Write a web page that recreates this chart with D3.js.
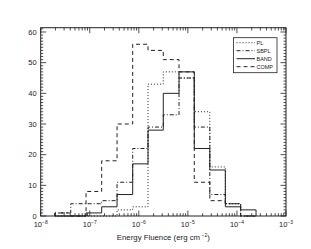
<!DOCTYPE html>
<html>
<head>
<meta charset="utf-8">
<script src="https://cdn.jsdelivr.net/npm/d3@7"></script>
<style>
  html, body { margin: 0; padding: 0; background: #fff; }
  text { font-family: 'Liberation Sans', Arial, sans-serif; fill: #222; }
</style>
</head>
<body>
<svg id="chart" width="311" height="249"></svg>
<script>
// bin edges in erg cm^-2
const binEdges = [1.95e-8, 4.1e-8, 8.4e-8, 1.75e-7, 3.6e-7, 7.5e-7, 1.54e-6,
  3.15e-6, 6.6e-6, 1.35e-5, 2.8e-5, 5.8e-5, 1.19e-4, 2.45e-4];

const plCounts   = [0, 0, 0, 0, 2, 3, 43, 47, 45, 34, 16, 4, 0];
const sbplCounts = [1, 4, 4, 5, 11, 22, 29, 33, 45, 29, 7, 4, 0];
const bandCounts = [0, 0, 1, 3, 7, 17, 28, 40, 47, 22, 15, 3, 2];
const compCounts = [1, 0, 8, 18, 30, 56, 54, 51, 47, 11, 5, 4, 0];

const seriesNames = ['PL', 'SBPL', 'BAND', 'COMP'];
const xTickExponents = [-8, -7, -6, -5, -4, -3];
const yTicks = [0, 10, 20, 30, 40, 50, 60];

const width = 311;
const height = 249;
const margin = { top: 27.7, right: 25, bottom: 33, left: 40.7 };

const dashes = {
  PL: '1,2',
  SBPL: '4,2,1,2',
  BAND: null,
  COMP: '4,3',
};

const series = [
  { name: 'PL', values: plCounts },
  { name: 'SBPL', values: sbplCounts },
  { name: 'BAND', values: bandCounts },
  { name: 'COMP', values: compCounts },
];

const svg = d3.select('#chart');

const xScale = d3.scaleLog()
  .domain([1e-8, 1e-3])
  .range([margin.left, width - margin.right]);

const yScale = d3.scaleLinear()
  .domain([0, 61.4])
  .range([height - margin.bottom, margin.top]);

const x0 = xScale.range()[0];
const x1 = xScale.range()[1];
const y0 = yScale.range()[0];
const y1 = yScale.range()[1];

// histogram outlines
const step = d3.line()
  .x((d) => xScale(d[0]))
  .y((d) => yScale(d[1]))
  .curve(d3.curveStepAfter);

const histG = svg.append('g').attr('class', 'hist');

histG.selectAll('path')
  .data(series)
  .join('path')
  .attr('fill', 'none')
  .attr('stroke', '#222')
  .attr('stroke-width', 1)
  .attr('stroke-dasharray', (d) => dashes[d.name])
  .attr('d', (d) => {
    const pts = [[binEdges[0], 0]];
    d.values.forEach((v, i) => pts.push([binEdges[i], v]));
    pts.push([binEdges[binEdges.length - 1], 0]);
    return step(pts);
  });

// frame
svg.append('rect')
  .attr('x', x0)
  .attr('y', y1)
  .attr('width', x1 - x0)
  .attr('height', y0 - y1)
  .attr('fill', 'none')
  .attr('stroke', '#222')
  .attr('stroke-width', 1);

// x ticks, inward on bottom and top
const xMinor = [];
for (let e = -8; e < -3; e++) {
  for (let m = 2; m <= 9; m++) xMinor.push(m * Math.pow(10, e));
}
const xMajor = xTickExponents.map((e) => Math.pow(10, e));

const tickG = svg.append('g')
  .attr('stroke', '#222')
  .attr('stroke-width', 0.8);

const xTickData = xMajor.map((v) => ({ v, len: 5.5 }))
  .concat(xMinor.map((v) => ({ v, len: 2.8 })));

tickG.selectAll('.xb')
  .data(xTickData)
  .join('line')
  .attr('class', 'xb')
  .attr('x1', (d) => xScale(d.v))
  .attr('x2', (d) => xScale(d.v))
  .attr('y1', y0)
  .attr('y2', (d) => y0 - d.len);

tickG.selectAll('.xt')
  .data(xTickData)
  .join('line')
  .attr('class', 'xt')
  .attr('x1', (d) => xScale(d.v))
  .attr('x2', (d) => xScale(d.v))
  .attr('y1', y1)
  .attr('y2', (d) => y1 + d.len);

// y ticks every unit, longer every ten
const yTickData = d3.range(0, 62).map((v) => ({ v, len: v % 10 === 0 ? 5.5 : 2.5 }));

tickG.selectAll('.yl')
  .data(yTickData)
  .join('line')
  .attr('class', 'yl')
  .attr('x1', x0)
  .attr('x2', (d) => x0 + d.len)
  .attr('y1', (d) => yScale(d.v))
  .attr('y2', (d) => yScale(d.v));

tickG.selectAll('.yr')
  .data(yTickData)
  .join('line')
  .attr('class', 'yr')
  .attr('x1', x1)
  .attr('x2', (d) => x1 - d.len)
  .attr('y1', (d) => yScale(d.v))
  .attr('y2', (d) => yScale(d.v));

// y labels
svg.append('g')
  .selectAll('text')
  .data(yTicks)
  .join('text')
  .attr('x', x0 - 4)
  .attr('y', (d) => yScale(d))
  .attr('dy', '0.35em')
  .attr('text-anchor', 'end')
  .attr('font-size', 7.5)
  .text((d) => d);

// x labels 10^n
const xLabels = svg.append('g')
  .selectAll('text')
  .data(xTickExponents)
  .join('text')
  .attr('x', (d) => xScale(Math.pow(10, d)))
  .attr('y', y0 + 11)
  .attr('text-anchor', 'middle')
  .attr('font-size', 7.5);

xLabels.append('tspan').text('10');
xLabels.append('tspan')
  .attr('font-size', 5)
  .attr('dy', -3.5)
  .text((d) => '\u2212' + Math.abs(d));

// axis title
const title = svg.append('text')
  .attr('x', (x0 + x1) / 2)
  .attr('y', y0 + 24)
  .attr('text-anchor', 'middle')
  .attr('font-size', 7.8);
title.append('tspan').text('Energy Fluence (erg cm');
title.append('tspan').attr('font-size', 5).attr('dy', -3.5).attr('dx', 1.5).text('\u22122');
title.append('tspan').attr('dy', 3.5).text(')');

// legend
const legend = svg.append('g')
  .attr('transform', 'translate(233.5,37.7)');

legend.append('rect')
  .attr('width', 43.5)
  .attr('height', 35)
  .attr('fill', '#fff')
  .attr('stroke', '#222')
  .attr('stroke-width', 0.8);

const legendRows = legend.selectAll('.row')
  .data(seriesNames)
  .join('g')
  .attr('class', 'row')
  .attr('transform', (d, i) => `translate(0,${5 + i * 8})`);

legendRows.append('line')
  .attr('x1', 3)
  .attr('x2', 21.5)
  .attr('stroke', '#222')
  .attr('stroke-width', 1)
  .attr('stroke-dasharray', (d) => dashes[d]);

legendRows.append('text')
  .attr('x', 23)
  .attr('dy', '0.35em')
  .attr('font-size', 5.5)
  .text((d) => d);
</script>
</body>
</html>
